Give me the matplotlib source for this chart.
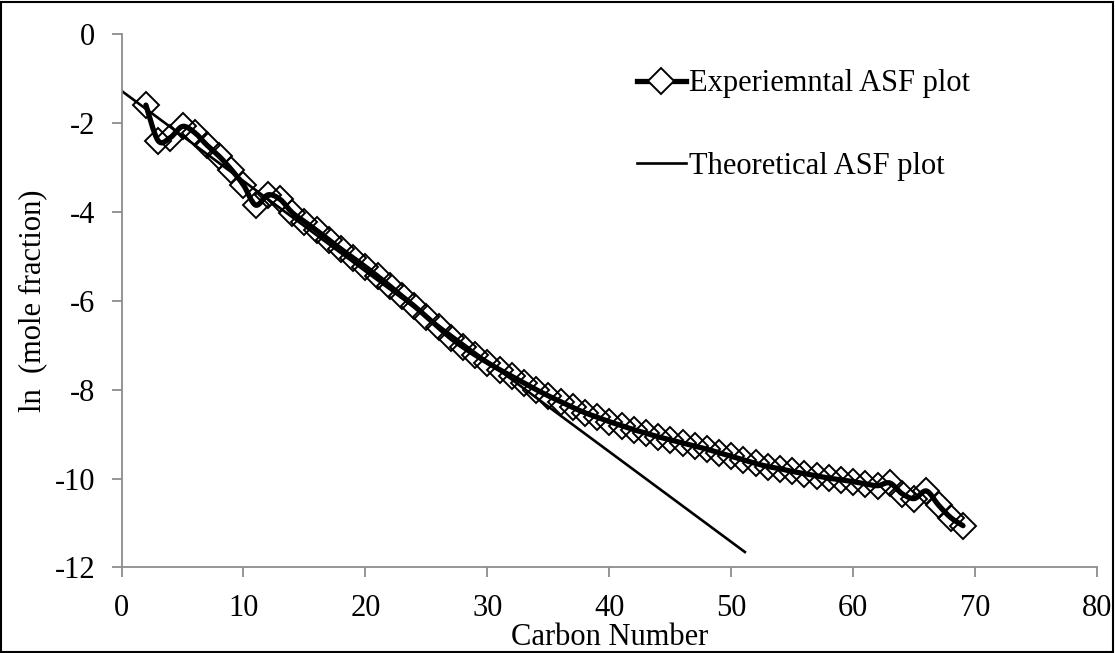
import numpy as np
import matplotlib
matplotlib.use("Agg")
import matplotlib.pyplot as plt
from matplotlib.path import Path
from matplotlib.patches import PathPatch, Rectangle
from matplotlib.lines import Line2D

plt.rcParams['font.family'] = ['Liberation Serif', 'DejaVu Serif']

# Experimental ln(mole fraction) by carbon number
carbon_exp = list(range(2, 70))
ln_exp = [
    -1.60, -2.40, -2.33, -2.08, -2.22, -2.50, -2.75, -3.05, -3.40, -3.85,   # C2-C11
    -3.62, -3.72, -4.02, -4.22, -4.42, -4.63, -4.84, -5.04, -5.24, -5.45,   # C12-C21
    -5.67, -5.90, -6.12, -6.36, -6.60, -6.84, -7.04, -7.22, -7.39, -7.55,   # C22-C31
    -7.70, -7.85, -8.00, -8.14, -8.27, -8.40, -8.52, -8.62, -8.72, -8.81,   # C32-C41
    -8.90, -8.98, -9.06, -9.13, -9.20, -9.27, -9.34, -9.42, -9.50, -9.58,   # C42-C51
    -9.66, -9.73, -9.78, -9.84, -9.89, -9.94, -9.99, -10.03, -10.07, -10.12,  # C52-C61
    -10.16, -10.10, -10.34, -10.45, -10.28, -10.60, -10.88, -11.06,         # C62-C69
]

# Theoretical ASF straight line (end points)
carbon_theo = [0.0, 51.2]
ln_theo = [-1.28, -11.67]

x_ticks = [0, 10, 20, 30, 40, 50, 60, 70, 80]
y_ticks = [0, -2, -4, -6, -8, -10, -12]

exp_label = "Experiemntal ASF plot"
theo_label = "Theoretical ASF plot"


def smooth_path(xs, ys):
    """Cubic Bezier path through the points (Catmull-Rom style control points)."""
    pts = np.column_stack([xs, ys]).astype(float)
    n = len(pts)
    verts = [pts[0]]
    codes = [Path.MOVETO]
    for i in range(n - 1):
        p0 = pts[i - 1] if i > 0 else pts[i]
        p1 = pts[i]
        p2 = pts[i + 1]
        p3 = pts[i + 2] if i + 2 < n else pts[i + 1]
        c1 = p1 + (p2 - p0) / 6.0
        c2 = p2 - (p3 - p1) / 6.0
        verts += [c1, c2, p2]
        codes += [Path.CURVE4] * 3
    return Path(verts, codes)


fig = plt.figure(figsize=(11.15, 6.53), dpi=100)
ax = fig.add_axes([0.109, 0.131, 0.875, 0.817])

ax.plot(carbon_theo, ln_theo, color='black', lw=1.9, solid_capstyle='butt', zorder=2)

curve = PathPatch(smooth_path(carbon_exp, ln_exp), facecolor='none',
                  edgecolor='black', lw=3.8, capstyle='round', joinstyle='round', zorder=3)
ax.add_patch(curve)
ax.plot(carbon_exp, ln_exp, linestyle='none', marker='D', markersize=13,
        markerfacecolor='none', markeredgecolor='black', markeredgewidth=1.4, zorder=4)

ax.set_xlim(0, 80)
ax.set_ylim(-12, 0)
ax.set_xticks(x_ticks)
ax.set_yticks(y_ticks)
ax.set_xticklabels([str(v) for v in x_ticks])
ax.set_yticklabels([str(v) for v in y_ticks])

for side in ('top', 'right'):
    ax.spines[side].set_visible(False)
for side in ('left', 'bottom'):
    ax.spines[side].set_color('#8c8c8c')
    ax.spines[side].set_linewidth(1.3)
ax.tick_params(axis='both', direction='out', length=7, width=1.3, color='#8c8c8c',
               labelsize=22)
ax.tick_params(axis='x', pad=12)
ax.tick_params(axis='y', pad=12)

ax.set_xlabel("Carbon Number", fontsize=22, labelpad=0)
ax.set_ylabel("ln  (mole fraction)", fontsize=22, labelpad=5)

handles = [
    Line2D([0], [0], color='black', lw=3.8, marker='D', markersize=13,
           markerfacecolor='white', markeredgecolor='black', markeredgewidth=1.4),
    Line2D([0], [0], color='black', lw=1.9),
]
leg = ax.legend(handles, [exp_label, theo_label], loc='upper left',
                bbox_to_anchor=(0.50, 0.985), frameon=False, fontsize=22,
                handlelength=1.6, handletextpad=0.1, labelspacing=1.75)

# Outer frame around the whole figure
fig.patches.append(Rectangle((0.001, 0.002), 0.997, 0.995, transform=fig.transFigure,
                             fill=False, edgecolor='black', lw=1.5))

fig.savefig("out.png", dpi=100)
